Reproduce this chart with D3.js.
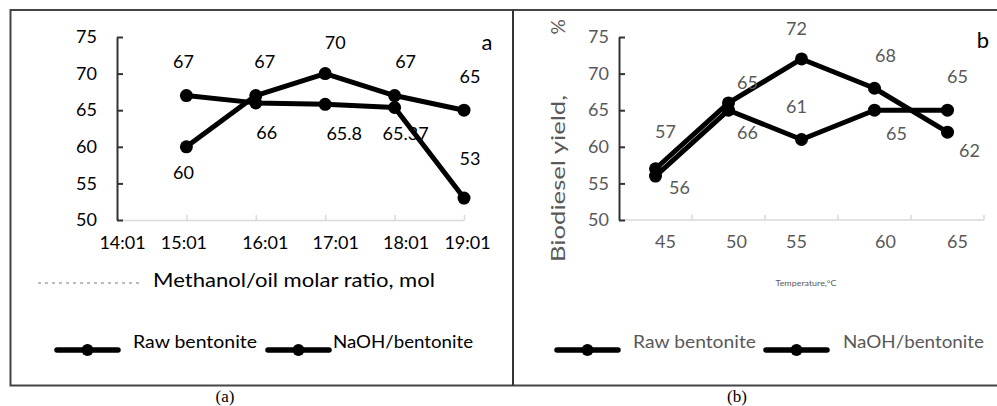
<!DOCTYPE html>
<html>
<head>
<meta charset="utf-8">
<script src="https://cdn.jsdelivr.net/npm/d3@7"></script>
<style>
  html, body { margin: 0; padding: 0; background: #fff; }
  svg { display: block; }
</style>
</head>
<body>
<svg id="fig" width="997" height="406"></svg>
<script>
// ---- Panel (a): yield vs methanol/oil molar ratio ----
const ratioLabels = ["14:01", "15:01", "16:01", "17:01", "18:01", "19:01"];
const ratioPoints = ["15:01", "16:01", "17:01", "18:01", "19:01"];
const rawRatio  = [67, 66, 65.8, 65.37, 53];
const naohRatio = [60, 67, 70, 67, 65];

// ---- Panel (b): yield vs temperature ----
const tempLabels = ["45", "50", "55", "60", "65"];
const rawTemp  = [57, 66, 72, 68, 62];
const naohTemp = [56, 65, 61, 65, 65];

const yTicks = [50, 55, 60, 65, 70, 75];
const seriesNames = ["Raw bentonite", "NaOH/bentonite"];

// label placement (pixel nudges relative to each marker)
const ratioTickNudge = [5, -3, 9, 10, 11, 3];
const rawRatioLabelOff  = [[-3, -34], [11, 30], [19, 29], [11, 26], [6, -39]];
const naohRatioLabelOff = [[-3, 26], [9, -34], [10, -31], [11, -34], [6, -34]];
const tempTickNudge = [10, 8, -5, 11, 10];
const rawTempLabelOff  = [[10, -37], [19, 30], [-5, -30], [11, -33], [22, 19]];
const naohTempLabelOff = [[24, 12], [19, -28], [-5, -33], [22, 23], [10, -34]];

const SANS = "Lato, 'Open Sans', sans-serif";
const SERIF = "'Liberation Serif', 'Times New Roman', serif";
const NUM_SIZE = 18;

const svg = d3.select("#fig").style("font-family", SANS);
const y = d3.scaleLinear().domain([50, 75]).range([220, 37]);

// frame
svg.append("rect").attr("x", 10.5).attr("y", 10).attr("width", 1000).attr("height", 375.5)
  .attr("fill", "none").attr("stroke", "#444").attr("stroke-width", 2);
svg.append("line").attr("x1", 513).attr("x2", 513).attr("y1", 10).attr("y2", 385.5)
  .attr("stroke", "#333").attr("stroke-width", 2);

function drawSeries(g, xs, values, offsets, textColor) {
  const pts = values.map((v, i) => [xs[i], y(v), v, offsets[i]]);
  g.append("path").datum(pts)
    .attr("d", d3.line().x(d => d[0]).y(d => d[1]))
    .attr("fill", "none").attr("stroke", "#000").attr("stroke-width", 5)
    .attr("stroke-linejoin", "round");
  g.selectAll(null).data(pts).join("circle")
    .attr("cx", d => d[0]).attr("cy", d => d[1]).attr("r", 6.5).attr("fill", "#000");
  g.selectAll(null).data(pts).join("text")
    .attr("x", d => d[0] + d[3][0]).attr("y", d => d[1] + d[3][1])
    .attr("dy", "0.35em").attr("text-anchor", "middle")
    .attr("font-size", NUM_SIZE).attr("fill", textColor)
    .text(d => d[2]);
}

function drawLegend(g, x0, textX, textLen, color) {
  seriesNames.forEach((name, i) => {
    const lx = x0[i];
    g.append("line").attr("x1", lx).attr("x2", lx + 61).attr("y1", 350).attr("y2", 350)
      .attr("stroke", "#000").attr("stroke-width", 5.5).attr("stroke-linecap", "round");
    g.append("circle").attr("cx", lx + 30.5).attr("cy", 350).attr("r", 6).attr("fill", "#000");
    g.append("text").attr("x", textX[i]).attr("y", 342).attr("dy", "0.35em")
      .attr("font-size", 17.5).attr("fill", color)
      .attr("textLength", textLen[i]).attr("lengthAdjust", "spacingAndGlyphs")
      .text(name);
  });
}

// ===== Panel (a) =====
{
  const g = svg.append("g");
  const x = d3.scalePoint().domain(ratioLabels).range([117, 464]);

  // x axis (light gray, ticks upward)
  const xa = g.append("g").attr("transform", "translate(0,220)")
    .call(d3.axisBottom(x).tickSize(-5).tickSizeOuter(0).tickPadding(16));
  xa.select(".domain").attr("stroke", "#d9d9d9").attr("stroke-width", 1.5);
  xa.selectAll(".tick line").attr("stroke", "#d9d9d9").attr("stroke-width", 1.5);
  xa.selectAll(".tick text").attr("font-size", NUM_SIZE).attr("fill", "#000")
    .attr("font-family", SANS)
    .attr("dx", (d, i) => ratioTickNudge[i]);

  // y axis (dark, ticks inward)
  const ya = g.append("g").attr("transform", "translate(117,0)")
    .call(d3.axisLeft(y).tickValues(yTicks).tickSize(-6).tickSizeOuter(0).tickPadding(20));
  ya.select(".domain").attr("stroke", "#333").attr("stroke-width", 2);
  ya.selectAll(".tick line").attr("stroke", "#333").attr("stroke-width", 2);
  ya.selectAll(".tick text").attr("font-size", NUM_SIZE).attr("fill", "#000")
    .attr("font-family", SANS);

  const xs = ratioPoints.map(c => x(c));
  drawSeries(g, xs, rawRatio, rawRatioLabelOff, "#000");
  drawSeries(g, xs, naohRatio, naohRatioLabelOff, "#000");

  g.append("text").attr("x", 487).attr("y", 42).attr("dy", "0.35em")
    .attr("text-anchor", "middle").attr("font-size", 22).text("a");

  // axis title with dotted leader
  g.append("line").attr("x1", 38).attr("x2", 143).attr("y1", 283).attr("y2", 283)
    .attr("stroke", "#777").attr("stroke-width", 1).attr("stroke-dasharray", "3,4");
  g.append("text").attr("x", 153).attr("y", 280).attr("dy", "0.35em")
    .attr("font-size", 19).attr("fill", "#000")
    .attr("textLength", 282).attr("lengthAdjust", "spacingAndGlyphs")
    .text("Methanol/oil molar ratio, mol");

  drawLegend(g, [57, 268], [133, 333], [124, 140], "#000");

  g.append("text").attr("x", 225).attr("y", 396).attr("dy", "0.35em")
    .attr("text-anchor", "middle").attr("font-size", 17)
    .style("font-family", SERIF).text("(a)");
}

// ===== Panel (b) =====
{
  const g = svg.append("g");
  const gray = "#595959";
  const x = d3.scaleBand().domain(tempLabels).range([619, 984]).padding(0);
  const axisY = 220;

  // x axis: ticks on category boundaries, labels at category centres
  g.append("line").attr("x1", 619).attr("x2", x.range()[1]).attr("y1", axisY).attr("y2", axisY)
    .attr("stroke", "#d9d9d9").attr("stroke-width", 1.5);
  g.selectAll(null).data(tempLabels).join("line")
    .attr("x1", d => x(d) + x.bandwidth()).attr("x2", d => x(d) + x.bandwidth())
    .attr("y1", axisY).attr("y2", axisY - 5)
    .attr("stroke", "#d9d9d9").attr("stroke-width", 1.5);
  g.selectAll(null).data(tempLabels).join("text")
    .attr("x", (d, i) => x(d) + x.bandwidth() / 2 + tempTickNudge[i])
    .attr("y", 242).attr("dy", "0.35em").attr("text-anchor", "middle")
    .attr("font-size", NUM_SIZE).attr("fill", gray).text(d => d);

  const ya = g.append("g").attr("transform", "translate(619,0)")
    .call(d3.axisLeft(y).tickValues(yTicks).tickSize(-6).tickSizeOuter(0).tickPadding(10));
  ya.select(".domain").attr("stroke", "#333").attr("stroke-width", 2);
  ya.selectAll(".tick line").attr("stroke", "#333").attr("stroke-width", 2);
  ya.selectAll(".tick text").attr("font-size", NUM_SIZE).attr("fill", gray)
    .attr("font-family", SANS);

  const xs = tempLabels.map(c => x(c) + x.bandwidth() / 2);
  drawSeries(g, xs, rawTemp, rawTempLabelOff, gray);
  drawSeries(g, xs, naohTemp, naohTempLabelOff, gray);

  g.append("text").attr("x", 983).attr("y", 40).attr("dy", "0.35em")
    .attr("text-anchor", "middle").attr("font-size", 22).text("b");

  // y-axis title
  g.append("text").attr("transform", "translate(558,178.5) rotate(-90)")
    .attr("dy", "0.35em").attr("text-anchor", "middle")
    .attr("font-size", 19).attr("fill", gray)
    .attr("textLength", 167).attr("lengthAdjust", "spacingAndGlyphs")
    .text("Biodiesel yield,");
  g.append("text").attr("transform", "translate(558,27) rotate(-90)")
    .attr("dy", "0.35em").attr("text-anchor", "middle")
    .attr("font-size", 19).attr("fill", gray).text("%");

  g.append("text").attr("x", 806).attr("y", 283).attr("dy", "0.35em")
    .attr("text-anchor", "middle").attr("font-size", 7.5).attr("fill", gray)
    .attr("textLength", 61).attr("lengthAdjust", "spacingAndGlyphs")
    .text("Temperature,°C");

  drawLegend(g, [557, 766], [633, 843], [123, 141], gray);

  g.append("text").attr("x", 737).attr("y", 396).attr("dy", "0.35em")
    .attr("text-anchor", "middle").attr("font-size", 17)
    .style("font-family", SERIF).text("(b)");
}
</script>
</body>
</html>
